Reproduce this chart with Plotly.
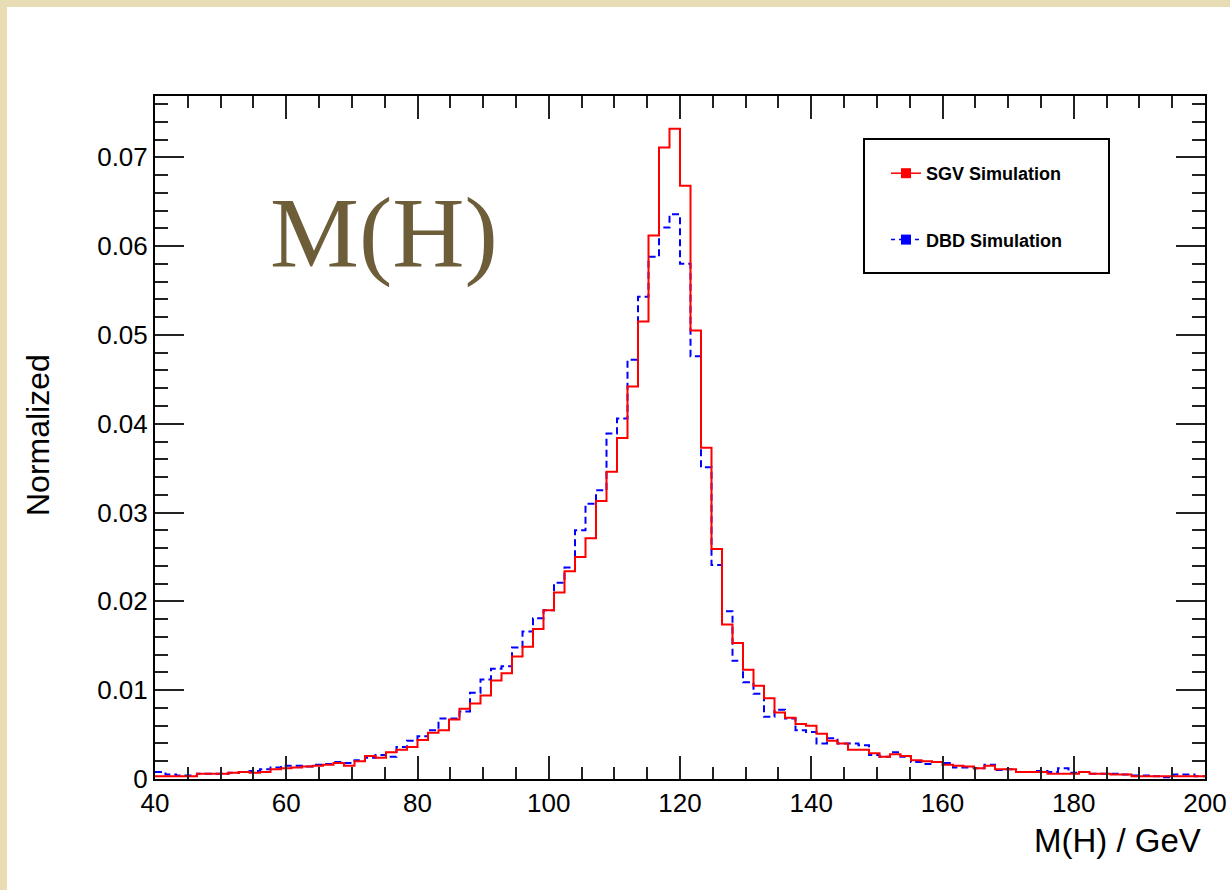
import numpy as np
import plotly.graph_objects as go

# ---------------- data ----------------
bin_low = 40.0
bin_width = 1.6
n_bins = 100

sgv = [
    0.0003, 0.0003, 0.0003, 0.0003, 0.0006, 0.0006, 0.0006, 0.0007, 0.0008, 0.0007,
    0.0008, 0.0011, 0.0012, 0.0013, 0.0014, 0.0015, 0.0016, 0.0018, 0.0015, 0.0020,
    0.0026, 0.0024, 0.0030, 0.0033, 0.0036, 0.0044, 0.0052, 0.0055, 0.0067, 0.0079,
    0.0085, 0.0094, 0.0111, 0.0119, 0.0138, 0.0149, 0.0169, 0.0190, 0.0210, 0.0234,
    0.0250, 0.0271, 0.0313, 0.0346, 0.0384, 0.0442, 0.0515, 0.0612, 0.0711, 0.0732,
    0.0668, 0.0505, 0.0373, 0.0259, 0.0174, 0.0153, 0.0123, 0.0105, 0.0091, 0.0075,
    0.0069, 0.0062, 0.0060, 0.0051, 0.0043, 0.0040, 0.0033, 0.0033, 0.0029, 0.0025,
    0.0028, 0.0026, 0.0021, 0.0020, 0.0019, 0.0016, 0.0015, 0.0014, 0.0012, 0.0015,
    0.0011, 0.0011, 0.0008, 0.0008, 0.0008, 0.0006, 0.0006, 0.0006, 0.0008, 0.0006,
    0.0006, 0.0005, 0.0005, 0.0003, 0.0003, 0.0003, 0.0003, 0.0003, 0.0003, 0.0003,
]

dbd = [
    0.0008, 0.0005, 0.0004, 0.0004, 0.0006, 0.0006, 0.0006, 0.0007, 0.0008, 0.0009,
    0.0011, 0.0013, 0.0015, 0.0015, 0.0014, 0.0016, 0.0017, 0.0019, 0.0018, 0.0021,
    0.0024, 0.0027, 0.0025, 0.0036, 0.0043, 0.0048, 0.0055, 0.0068, 0.0068, 0.0076,
    0.0097, 0.0112, 0.0124, 0.0127, 0.0148, 0.0166, 0.0181, 0.0190, 0.0221, 0.0238,
    0.0280, 0.0310, 0.0325, 0.0389, 0.0406, 0.0472, 0.0543, 0.0588, 0.0621, 0.0636,
    0.0580, 0.0476, 0.0351, 0.0241, 0.0189, 0.0133, 0.0109, 0.0096, 0.0070, 0.0078,
    0.0068, 0.0055, 0.0053, 0.0040, 0.0046, 0.0040, 0.0040, 0.0038, 0.0027, 0.0025,
    0.0030, 0.0025, 0.0019, 0.0017, 0.0019, 0.0018, 0.0013, 0.0013, 0.0012, 0.0016,
    0.0010, 0.0011, 0.0008, 0.0008, 0.0009, 0.0008, 0.0012, 0.0007, 0.0008, 0.0006,
    0.0006, 0.0006, 0.0005, 0.0004, 0.0004, 0.0003, 0.0002, 0.0005, 0.0005, 0.0003,
]

x_ticks = [40, 60, 80, 100, 120, 140, 160, 180, 200]
y_ticks = [0, 0.01, 0.02, 0.03, 0.04, 0.05, 0.06, 0.07]
x_range = [40, 200]
y_range = [0, 0.0769]

series_names = ["SGV Simulation", "DBD Simulation"]
title_text = "M(H)"
x_title = "M(H) / GeV"
y_title = "Normalized"

# ---------------- figure ----------------
edges = bin_low + bin_width * np.arange(n_bins + 1)

fig = go.Figure()
fig.add_trace(go.Scatter(
    x=edges, y=list(dbd) + [dbd[-1]], mode="lines", line_shape="hv",
    line=dict(color="#0000FF", width=2, dash="7px,4px"), showlegend=False))
fig.add_trace(go.Scatter(
    x=edges, y=list(sgv) + [sgv[-1]], mode="lines", line_shape="hv",
    line=dict(color="#FF0000", width=2), showlegend=False))

# legend entries
fig.add_trace(go.Scatter(
    x=[None], y=[None], mode="lines+markers", name=series_names[0],
    legendgroup="a", line=dict(color="#FF0000", width=1.5),
    marker=dict(symbol="square", size=10, color="#FF0000")))
fig.add_trace(go.Scatter(
    x=[None], y=[None], mode="lines+markers", name=series_names[1],
    legendgroup="b", line=dict(color="#0000FF", width=1.5, dash="4px,4px"),
    marker=dict(symbol="square", size=10, color="#0000FF")))

L, R, T, B = 155, 25, 96, 111
W, H = 1230, 890
pw, ph = W - L - R, H - T - B


def px(xp):
    return (xp - L) / pw


def py(yp):
    return (H - B - yp) / ph


font_main = "Liberation Sans, Arial, Helvetica, sans-serif"
beige = "#E8DCB4"

axis_common = dict(
    showgrid=False, zeroline=False, showline=True, linecolor="black",
    linewidth=2, mirror="allticks", ticks="inside", tickcolor="#222222",
    tickwidth=1.5, tickfont=dict(family=font_main, size=26, color="black"),
)

fig.update_layout(
    width=W, height=H, autosize=False,
    margin=dict(l=L, r=R, t=T, b=B, pad=0, autoexpand=False),
    paper_bgcolor=beige, plot_bgcolor="white",
    xaxis=dict(range=x_range, tickvals=x_ticks, ticklen=23,
               minor=dict(ticks="inside", dtick=5, ticklen=12,
                          tickcolor="#222222", tickwidth=1.5),
               **axis_common),
    yaxis=dict(range=y_range, tickvals=y_ticks, ticklen=29,
               minor=dict(ticks="inside", dtick=0.002, ticklen=13,
                          tickcolor="#222222", tickwidth=1.5),
               **axis_common),
    legend=dict(x=px(886), y=py(155), xanchor="left", yanchor="top",
                bgcolor="rgba(0,0,0,0)", borderwidth=0,
                font=dict(family=font_main, size=18, color="black", weight="bold"),
                tracegroupgap=40, itemwidth=30),
    showlegend=True,
)

# white page panel inside the beige frame (frame visible on top and left)
fig.add_shape(type="rect", xref="paper", yref="paper",
              x0=px(7), x1=px(W + 10), y0=py(H + 10), y1=py(7),
              fillcolor="white", line_width=0, layer="below")

# legend box
fig.add_shape(type="rect", xref="paper", yref="paper",
              x0=px(864), x1=px(1109), y0=py(273), y1=py(139),
              line=dict(color="black", width=2), fillcolor="rgba(0,0,0,0)")

# big title text
fig.add_annotation(text=title_text, xref="paper", yref="paper",
                   x=px(384), y=py(232), xanchor="center", yanchor="middle",
                   showarrow=False,
                   font=dict(family="Liberation Serif, Times New Roman, serif",
                             size=100, color="#6E5D39"))

# axis titles
fig.add_annotation(text=x_title, xref="paper", yref="paper",
                   x=px(1203), y=py(840), xanchor="right", yanchor="middle",
                   showarrow=False,
                   font=dict(family=font_main, size=33, color="black"))
fig.add_annotation(text=y_title, xref="paper", yref="paper",
                   x=px(38), y=py(435), xanchor="center", yanchor="middle",
                   textangle=-90, showarrow=False,
                   font=dict(family=font_main, size=32, color="black"))

fig.write_html("out.html")
